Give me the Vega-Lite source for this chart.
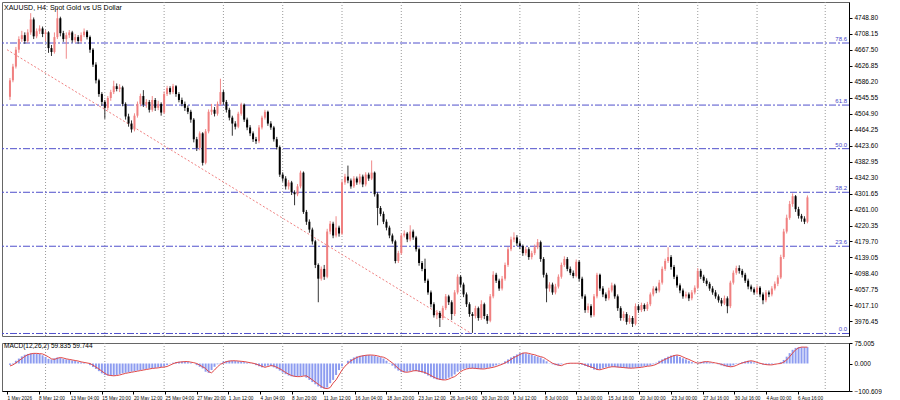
{
"$schema": "https://vega.github.io/schema/vega-lite/v6.json",
"padding": {"left": 1, "top": 1, "right": 0, "bottom": 0},
"background": "white",
"spacing": 2,
"config": {"view": {"stroke": "#666"}, "font": "Liberation Sans", "axis": {"labelFont": "Liberation Sans", "labelFontSize": 6.5, "labelColor": "#000", "domainColor": "#000", "tickColor": "#000", "tickSize": 3, "grid": false}},
"datasets": {
"bars": [
{"i":1,"o":4548,"h":4596,"l":4540,"c":4590,"m":-5,"s":-9},
{"i":2,"o":4590,"h":4632,"l":4585,"c":4625,"m":2,"s":-5},
{"i":3,"o":4625,"h":4675,"l":4620,"c":4668,"m":10,"s":2},
{"i":4,"o":4668,"h":4702,"l":4660,"c":4695,"m":18,"s":10},
{"i":5,"o":4695,"h":4716,"l":4688,"c":4705,"m":26,"s":18},
{"i":6,"o":4705,"h":4712,"l":4683,"c":4690,"m":32,"s":26},
{"i":7,"o":4690,"h":4720,"l":4685,"c":4712,"m":35,"s":32},
{"i":8,"o":4712,"h":4761,"l":4706,"c":4745,"m":37,"s":35},
{"i":9,"o":4745,"h":4750,"l":4695,"c":4702,"m":37,"s":37},
{"i":10,"o":4702,"h":4722,"l":4697,"c":4715,"m":36,"s":37},
{"i":11,"o":4715,"h":4730,"l":4708,"c":4722,"m":35,"s":36},
{"i":12,"o":4722,"h":4727,"l":4700,"c":4708,"m":30,"s":35},
{"i":13,"o":4708,"h":4718,"l":4690,"c":4712,"m":24,"s":30},
{"i":14,"o":4712,"h":4715,"l":4660,"c":4672,"m":17,"s":24},
{"i":15,"o":4672,"h":4680,"l":4652,"c":4662,"m":15,"s":17},
{"i":16,"o":4662,"h":4712,"l":4658,"c":4700,"m":19,"s":15},
{"i":17,"o":4700,"h":4774,"l":4695,"c":4748,"m":22,"s":19},
{"i":18,"o":4748,"h":4752,"l":4702,"c":4710,"m":20,"s":22},
{"i":19,"o":4710,"h":4716,"l":4688,"c":4695,"m":17,"s":20},
{"i":20,"o":4695,"h":4712,"l":4645,"c":4705,"m":15,"s":17},
{"i":21,"o":4705,"h":4718,"l":4698,"c":4712,"m":13,"s":15},
{"i":22,"o":4712,"h":4716,"l":4686,"c":4692,"m":11,"s":13},
{"i":23,"o":4692,"h":4708,"l":4686,"c":4700,"m":9,"s":11},
{"i":24,"o":4700,"h":4705,"l":4683,"c":4690,"m":6,"s":9},
{"i":25,"o":4690,"h":4712,"l":4686,"c":4705,"m":4,"s":6},
{"i":26,"o":4705,"h":4722,"l":4700,"c":4714,"m":2,"s":4},
{"i":27,"o":4714,"h":4718,"l":4694,"c":4700,"m":0,"s":2},
{"i":28,"o":4700,"h":4704,"l":4660,"c":4668,"m":-6,"s":0},
{"i":29,"o":4668,"h":4672,"l":4624,"c":4630,"m":-13,"s":-6},
{"i":30,"o":4630,"h":4636,"l":4582,"c":4590,"m":-20,"s":-13},
{"i":31,"o":4590,"h":4594,"l":4548,"c":4555,"m":-28,"s":-20},
{"i":32,"o":4555,"h":4560,"l":4525,"c":4535,"m":-36,"s":-28},
{"i":33,"o":4535,"h":4540,"l":4492,"c":4520,"m":-42,"s":-36},
{"i":34,"o":4520,"h":4550,"l":4514,"c":4545,"m":-44,"s":-42},
{"i":35,"o":4545,"h":4566,"l":4538,"c":4560,"m":-45,"s":-44},
{"i":36,"o":4560,"h":4589,"l":4555,"c":4575,"m":-44,"s":-45},
{"i":37,"o":4575,"h":4582,"l":4562,"c":4568,"m":-42,"s":-44},
{"i":38,"o":4568,"h":4580,"l":4560,"c":4572,"m":-39,"s":-42},
{"i":39,"o":4572,"h":4576,"l":4524,"c":4530,"m":-36,"s":-39},
{"i":40,"o":4530,"h":4534,"l":4490,"c":4498,"m":-34,"s":-36},
{"i":41,"o":4498,"h":4505,"l":4472,"c":4480,"m":-32,"s":-34},
{"i":42,"o":4480,"h":4488,"l":4457,"c":4465,"m":-30,"s":-32},
{"i":43,"o":4465,"h":4506,"l":4460,"c":4500,"m":-28,"s":-30},
{"i":44,"o":4500,"h":4536,"l":4495,"c":4530,"m":-26,"s":-28},
{"i":45,"o":4530,"h":4556,"l":4524,"c":4550,"m":-24,"s":-26},
{"i":46,"o":4550,"h":4565,"l":4522,"c":4528,"m":-22,"s":-24},
{"i":47,"o":4528,"h":4542,"l":4520,"c":4535,"m":-20,"s":-22},
{"i":48,"o":4535,"h":4540,"l":4508,"c":4515,"m":-18,"s":-20},
{"i":49,"o":4515,"h":4550,"l":4510,"c":4540,"m":-17,"s":-18},
{"i":50,"o":4540,"h":4545,"l":4512,"c":4520,"m":-16,"s":-17},
{"i":51,"o":4520,"h":4538,"l":4514,"c":4530,"m":-14,"s":-16},
{"i":52,"o":4530,"h":4534,"l":4500,"c":4508,"m":-13,"s":-14},
{"i":53,"o":4508,"h":4562,"l":4504,"c":4555,"m":-11,"s":-13},
{"i":54,"o":4555,"h":4576,"l":4550,"c":4570,"m":-6,"s":-11},
{"i":55,"o":4570,"h":4575,"l":4554,"c":4560,"m":-1,"s":-6},
{"i":56,"o":4560,"h":4581,"l":4555,"c":4575,"m":3,"s":-1},
{"i":57,"o":4575,"h":4578,"l":4548,"c":4555,"m":5,"s":3},
{"i":58,"o":4555,"h":4560,"l":4534,"c":4540,"m":6,"s":5},
{"i":59,"o":4540,"h":4546,"l":4524,"c":4530,"m":7,"s":6},
{"i":60,"o":4530,"h":4536,"l":4512,"c":4520,"m":7,"s":7},
{"i":61,"o":4520,"h":4526,"l":4504,"c":4510,"m":5,"s":7},
{"i":62,"o":4510,"h":4515,"l":4482,"c":4490,"m":3,"s":5},
{"i":63,"o":4490,"h":4494,"l":4432,"c":4440,"m":0,"s":3},
{"i":64,"o":4440,"h":4446,"l":4410,"c":4418,"m":-6,"s":0},
{"i":65,"o":4418,"h":4460,"l":4412,"c":4455,"m":-12,"s":-6},
{"i":66,"o":4455,"h":4458,"l":4373,"c":4380,"m":-18,"s":-12},
{"i":67,"o":4380,"h":4466,"l":4376,"c":4460,"m":-30,"s":-18},
{"i":68,"o":4460,"h":4516,"l":4455,"c":4510,"m":-34,"s":-30},
{"i":69,"o":4510,"h":4530,"l":4502,"c":4515,"m":-24,"s":-34},
{"i":70,"o":4515,"h":4522,"l":4498,"c":4505,"m":-12,"s":-24},
{"i":71,"o":4505,"h":4536,"l":4500,"c":4530,"m":-3,"s":-12},
{"i":72,"o":4530,"h":4594,"l":4526,"c":4560,"m":2,"s":-3},
{"i":73,"o":4560,"h":4565,"l":4528,"c":4535,"m":7,"s":2},
{"i":74,"o":4535,"h":4540,"l":4508,"c":4515,"m":9,"s":7},
{"i":75,"o":4515,"h":4520,"l":4488,"c":4495,"m":10,"s":9},
{"i":76,"o":4495,"h":4500,"l":4449,"c":4480,"m":10,"s":10},
{"i":77,"o":4480,"h":4486,"l":4465,"c":4472,"m":9,"s":10},
{"i":78,"o":4472,"h":4510,"l":4468,"c":4505,"m":8,"s":9},
{"i":79,"o":4505,"h":4533,"l":4500,"c":4528,"m":7,"s":8},
{"i":80,"o":4528,"h":4531,"l":4484,"c":4490,"m":5,"s":7},
{"i":81,"o":4490,"h":4495,"l":4463,"c":4470,"m":3,"s":5},
{"i":82,"o":4470,"h":4476,"l":4448,"c":4455,"m":1,"s":3},
{"i":83,"o":4455,"h":4460,"l":4433,"c":4440,"m":-2,"s":1},
{"i":84,"o":4440,"h":4446,"l":4428,"c":4435,"m":-6,"s":-2},
{"i":85,"o":4435,"h":4476,"l":4430,"c":4470,"m":-10,"s":-6},
{"i":86,"o":4470,"h":4500,"l":4465,"c":4495,"m":-14,"s":-10},
{"i":87,"o":4495,"h":4515,"l":4490,"c":4510,"m":-11,"s":-14},
{"i":88,"o":4510,"h":4513,"l":4474,"c":4480,"m":-8,"s":-11},
{"i":89,"o":4480,"h":4486,"l":4464,"c":4470,"m":-9,"s":-8},
{"i":90,"o":4470,"h":4474,"l":4434,"c":4440,"m":-14,"s":-9},
{"i":91,"o":4440,"h":4446,"l":4414,"c":4420,"m":-19,"s":-14},
{"i":92,"o":4420,"h":4424,"l":4344,"c":4350,"m":-26,"s":-19},
{"i":93,"o":4350,"h":4356,"l":4332,"c":4340,"m":-33,"s":-26},
{"i":94,"o":4340,"h":4346,"l":4312,"c":4320,"m":-39,"s":-33},
{"i":95,"o":4320,"h":4336,"l":4312,"c":4330,"m":-44,"s":-39},
{"i":96,"o":4330,"h":4334,"l":4298,"c":4305,"m":-47,"s":-44},
{"i":97,"o":4305,"h":4310,"l":4272,"c":4300,"m":-48,"s":-47},
{"i":98,"o":4300,"h":4326,"l":4295,"c":4320,"m":-48,"s":-48},
{"i":99,"o":4320,"h":4360,"l":4315,"c":4355,"m":-46,"s":-48},
{"i":100,"o":4355,"h":4358,"l":4250,"c":4255,"m":-45,"s":-46},
{"i":101,"o":4255,"h":4260,"l":4222,"c":4230,"m":-52,"s":-45},
{"i":102,"o":4230,"h":4236,"l":4202,"c":4210,"m":-60,"s":-52},
{"i":103,"o":4210,"h":4215,"l":4172,"c":4180,"m":-68,"s":-60},
{"i":104,"o":4180,"h":4184,"l":4112,"c":4120,"m":-76,"s":-68},
{"i":105,"o":4120,"h":4124,"l":4025,"c":4085,"m":-84,"s":-76},
{"i":106,"o":4085,"h":4116,"l":4080,"c":4110,"m":-90,"s":-84},
{"i":107,"o":4110,"h":4120,"l":4082,"c":4090,"m":-92,"s":-90},
{"i":108,"o":4090,"h":4212,"l":4086,"c":4205,"m":-88,"s":-92},
{"i":109,"o":4205,"h":4232,"l":4198,"c":4225,"m":-72,"s":-88},
{"i":110,"o":4225,"h":4230,"l":4188,"c":4195,"m":-60,"s":-72},
{"i":111,"o":4195,"h":4244,"l":4190,"c":4215,"m":-42,"s":-60},
{"i":112,"o":4215,"h":4220,"l":4192,"c":4200,"m":-24,"s":-42},
{"i":113,"o":4200,"h":4336,"l":4196,"c":4330,"m":-10,"s":-24},
{"i":114,"o":4330,"h":4352,"l":4324,"c":4345,"m":0,"s":-10},
{"i":115,"o":4345,"h":4373,"l":4328,"c":4335,"m":10,"s":0},
{"i":116,"o":4335,"h":4340,"l":4314,"c":4320,"m":16,"s":10},
{"i":117,"o":4320,"h":4346,"l":4316,"c":4340,"m":22,"s":16},
{"i":118,"o":4340,"h":4345,"l":4324,"c":4330,"m":26,"s":22},
{"i":119,"o":4330,"h":4352,"l":4325,"c":4345,"m":28,"s":26},
{"i":120,"o":4345,"h":4350,"l":4318,"c":4325,"m":30,"s":28},
{"i":121,"o":4325,"h":4356,"l":4320,"c":4350,"m":31,"s":30},
{"i":122,"o":4350,"h":4355,"l":4334,"c":4340,"m":31,"s":31},
{"i":123,"o":4340,"h":4386,"l":4336,"c":4355,"m":30,"s":31},
{"i":124,"o":4355,"h":4358,"l":4294,"c":4300,"m":28,"s":30},
{"i":125,"o":4300,"h":4305,"l":4221,"c":4265,"m":25,"s":28},
{"i":126,"o":4265,"h":4270,"l":4244,"c":4250,"m":23,"s":25},
{"i":127,"o":4250,"h":4256,"l":4224,"c":4230,"m":18,"s":23},
{"i":128,"o":4230,"h":4236,"l":4208,"c":4215,"m":10,"s":18},
{"i":129,"o":4215,"h":4220,"l":4188,"c":4195,"m":2,"s":10},
{"i":130,"o":4195,"h":4200,"l":4174,"c":4180,"m":-8,"s":2},
{"i":131,"o":4180,"h":4184,"l":4124,"c":4130,"m":-18,"s":-8},
{"i":132,"o":4130,"h":4156,"l":4125,"c":4150,"m":-26,"s":-18},
{"i":133,"o":4150,"h":4200,"l":4146,"c":4195,"m":-31,"s":-26},
{"i":134,"o":4195,"h":4208,"l":4190,"c":4200,"m":-32,"s":-31},
{"i":135,"o":4200,"h":4204,"l":4178,"c":4185,"m":-30,"s":-32},
{"i":136,"o":4185,"h":4221,"l":4180,"c":4205,"m":-27,"s":-30},
{"i":137,"o":4205,"h":4210,"l":4184,"c":4190,"m":-26,"s":-27},
{"i":138,"o":4190,"h":4194,"l":4154,"c":4160,"m":-28,"s":-26},
{"i":139,"o":4160,"h":4164,"l":4118,"c":4125,"m":-30,"s":-28},
{"i":140,"o":4125,"h":4130,"l":4104,"c":4110,"m":-33,"s":-30},
{"i":141,"o":4110,"h":4136,"l":4074,"c":4080,"m":-38,"s":-33},
{"i":142,"o":4080,"h":4085,"l":4044,"c":4050,"m":-44,"s":-38},
{"i":143,"o":4050,"h":4055,"l":4012,"c":4020,"m":-50,"s":-44},
{"i":144,"o":4020,"h":4025,"l":3986,"c":3992,"m":-55,"s":-50},
{"i":145,"o":3992,"h":4005,"l":3982,"c":3998,"m":-58,"s":-55},
{"i":146,"o":3998,"h":4003,"l":3962,"c":3985,"m":-60,"s":-58},
{"i":147,"o":3985,"h":4016,"l":3980,"c":4010,"m":-60,"s":-60},
{"i":148,"o":4010,"h":4046,"l":4005,"c":4040,"m":-57,"s":-60},
{"i":149,"o":4040,"h":4044,"l":4018,"c":4025,"m":-52,"s":-57},
{"i":150,"o":4025,"h":4030,"l":3980,"c":3995,"m":-48,"s":-52},
{"i":151,"o":3995,"h":4056,"l":3990,"c":4050,"m":-40,"s":-48},
{"i":152,"o":4050,"h":4096,"l":4045,"c":4090,"m":-30,"s":-40},
{"i":153,"o":4090,"h":4094,"l":4064,"c":4070,"m":-24,"s":-30},
{"i":154,"o":4070,"h":4075,"l":4038,"c":4045,"m":-20,"s":-24},
{"i":155,"o":4045,"h":4050,"l":4013,"c":4020,"m":-18,"s":-20},
{"i":156,"o":4020,"h":4025,"l":3988,"c":3995,"m":-17,"s":-18},
{"i":157,"o":3995,"h":4000,"l":3947,"c":3990,"m":-18,"s":-17},
{"i":158,"o":3990,"h":4016,"l":3984,"c":4010,"m":-19,"s":-18},
{"i":159,"o":4010,"h":4014,"l":3978,"c":3985,"m":-20,"s":-19},
{"i":160,"o":3985,"h":4030,"l":3980,"c":4020,"m":-20,"s":-20},
{"i":161,"o":4020,"h":4024,"l":3982,"c":3990,"m":-18,"s":-20},
{"i":162,"o":3990,"h":3995,"l":3970,"c":3978,"m":-16,"s":-18},
{"i":163,"o":3978,"h":4046,"l":3974,"c":4040,"m":-14,"s":-16},
{"i":164,"o":4040,"h":4104,"l":4035,"c":4095,"m":-11,"s":-14},
{"i":165,"o":4095,"h":4100,"l":4074,"c":4080,"m":-7,"s":-11},
{"i":166,"o":4080,"h":4085,"l":4054,"c":4060,"m":-3,"s":-7},
{"i":167,"o":4060,"h":4092,"l":4055,"c":4085,"m":2,"s":-3},
{"i":168,"o":4085,"h":4126,"l":4080,"c":4120,"m":8,"s":2},
{"i":169,"o":4120,"h":4166,"l":4115,"c":4160,"m":15,"s":8},
{"i":170,"o":4160,"h":4192,"l":4155,"c":4185,"m":22,"s":15},
{"i":171,"o":4185,"h":4203,"l":4178,"c":4190,"m":27,"s":22},
{"i":172,"o":4190,"h":4196,"l":4168,"c":4175,"m":33,"s":27},
{"i":173,"o":4175,"h":4182,"l":4160,"c":4168,"m":38,"s":33},
{"i":174,"o":4168,"h":4172,"l":4143,"c":4150,"m":39,"s":38},
{"i":175,"o":4150,"h":4166,"l":4144,"c":4160,"m":37,"s":39},
{"i":176,"o":4160,"h":4165,"l":4133,"c":4140,"m":34,"s":37},
{"i":177,"o":4140,"h":4156,"l":4134,"c":4150,"m":32,"s":34},
{"i":178,"o":4150,"h":4172,"l":4145,"c":4165,"m":28,"s":32},
{"i":179,"o":4165,"h":4186,"l":4160,"c":4178,"m":25,"s":28},
{"i":180,"o":4178,"h":4182,"l":4128,"c":4135,"m":22,"s":25},
{"i":181,"o":4135,"h":4140,"l":4088,"c":4095,"m":15,"s":22},
{"i":182,"o":4095,"h":4100,"l":4025,"c":4060,"m":8,"s":15},
{"i":183,"o":4060,"h":4076,"l":4052,"c":4070,"m":1,"s":8},
{"i":184,"o":4070,"h":4075,"l":4044,"c":4050,"m":-3,"s":1},
{"i":185,"o":4050,"h":4072,"l":4045,"c":4065,"m":-6,"s":-3},
{"i":186,"o":4065,"h":4096,"l":4060,"c":4090,"m":-8,"s":-6},
{"i":187,"o":4090,"h":4126,"l":4085,"c":4120,"m":-3,"s":-8},
{"i":188,"o":4120,"h":4142,"l":4115,"c":4135,"m":0,"s":-3},
{"i":189,"o":4135,"h":4140,"l":4104,"c":4110,"m":1,"s":0},
{"i":190,"o":4110,"h":4116,"l":4094,"c":4100,"m":1,"s":1},
{"i":191,"o":4100,"h":4106,"l":4086,"c":4092,"m":1,"s":1},
{"i":192,"o":4092,"h":4134,"l":4088,"c":4128,"m":1,"s":1},
{"i":193,"o":4128,"h":4132,"l":4078,"c":4085,"m":-1,"s":1},
{"i":194,"o":4085,"h":4090,"l":4034,"c":4040,"m":-5,"s":-1},
{"i":195,"o":4040,"h":4045,"l":3998,"c":4005,"m":-9,"s":-5},
{"i":196,"o":4005,"h":4022,"l":3998,"c":4015,"m":-13,"s":-9},
{"i":197,"o":4015,"h":4020,"l":3986,"c":3992,"m":-16,"s":-13},
{"i":198,"o":3992,"h":4046,"l":3988,"c":4040,"m":-22,"s":-16},
{"i":199,"o":4040,"h":4100,"l":4035,"c":4095,"m":-23,"s":-22},
{"i":200,"o":4095,"h":4098,"l":4054,"c":4060,"m":-20,"s":-23},
{"i":201,"o":4060,"h":4066,"l":4038,"c":4045,"m":-17,"s":-20},
{"i":202,"o":4045,"h":4050,"l":4028,"c":4035,"m":-14,"s":-17},
{"i":203,"o":4035,"h":4062,"l":4030,"c":4055,"m":-12,"s":-14},
{"i":204,"o":4055,"h":4075,"l":4050,"c":4068,"m":-12,"s":-12},
{"i":205,"o":4068,"h":4072,"l":4034,"c":4040,"m":-13,"s":-12},
{"i":206,"o":4040,"h":4045,"l":4003,"c":4010,"m":-14,"s":-13},
{"i":207,"o":4010,"h":4015,"l":3978,"c":3985,"m":-15,"s":-14},
{"i":208,"o":3985,"h":4002,"l":3978,"c":3995,"m":-16,"s":-15},
{"i":209,"o":3995,"h":4000,"l":3968,"c":3975,"m":-17,"s":-16},
{"i":210,"o":3975,"h":3992,"l":3970,"c":3985,"m":-17,"s":-17},
{"i":211,"o":3985,"h":3990,"l":3962,"c":3970,"m":-16,"s":-17},
{"i":212,"o":3970,"h":4022,"l":3966,"c":4015,"m":-15,"s":-16},
{"i":213,"o":4015,"h":4020,"l":3998,"c":4005,"m":-14,"s":-15},
{"i":214,"o":4005,"h":4024,"l":4000,"c":4018,"m":-12,"s":-14},
{"i":215,"o":4018,"h":4022,"l":4002,"c":4008,"m":-10,"s":-12},
{"i":216,"o":4008,"h":4026,"l":4003,"c":4020,"m":-9,"s":-10},
{"i":217,"o":4020,"h":4050,"l":4015,"c":4045,"m":-7,"s":-9},
{"i":218,"o":4045,"h":4066,"l":4040,"c":4060,"m":-3,"s":-7},
{"i":219,"o":4060,"h":4065,"l":4048,"c":4055,"m":3,"s":-3},
{"i":220,"o":4055,"h":4082,"l":4050,"c":4075,"m":10,"s":3},
{"i":221,"o":4075,"h":4116,"l":4070,"c":4110,"m":15,"s":10},
{"i":222,"o":4110,"h":4136,"l":4105,"c":4130,"m":20,"s":15},
{"i":223,"o":4130,"h":4165,"l":4125,"c":4140,"m":25,"s":20},
{"i":224,"o":4140,"h":4145,"l":4108,"c":4115,"m":29,"s":25},
{"i":225,"o":4115,"h":4120,"l":4084,"c":4090,"m":31,"s":29},
{"i":226,"o":4090,"h":4095,"l":4062,"c":4068,"m":29,"s":31},
{"i":227,"o":4068,"h":4073,"l":4048,"c":4055,"m":24,"s":29},
{"i":228,"o":4055,"h":4060,"l":4034,"c":4040,"m":19,"s":24},
{"i":229,"o":4040,"h":4052,"l":4035,"c":4045,"m":15,"s":19},
{"i":230,"o":4045,"h":4050,"l":4028,"c":4035,"m":10,"s":15},
{"i":231,"o":4035,"h":4056,"l":4030,"c":4050,"m":5,"s":10},
{"i":232,"o":4050,"h":4068,"l":4045,"c":4062,"m":1,"s":5},
{"i":233,"o":4062,"h":4112,"l":4058,"c":4105,"m":3,"s":1},
{"i":234,"o":4105,"h":4110,"l":4084,"c":4090,"m":6,"s":3},
{"i":235,"o":4090,"h":4095,"l":4074,"c":4080,"m":7,"s":6},
{"i":236,"o":4080,"h":4086,"l":4066,"c":4072,"m":6,"s":7},
{"i":237,"o":4072,"h":4077,"l":4054,"c":4060,"m":4,"s":6},
{"i":238,"o":4060,"h":4066,"l":4044,"c":4050,"m":2,"s":4},
{"i":239,"o":4050,"h":4056,"l":4034,"c":4040,"m":0,"s":2},
{"i":240,"o":4040,"h":4045,"l":4024,"c":4030,"m":-3,"s":0},
{"i":241,"o":4030,"h":4036,"l":4015,"c":4022,"m":-7,"s":-3},
{"i":242,"o":4022,"h":4042,"l":4018,"c":4035,"m":-10,"s":-7},
{"i":243,"o":4035,"h":4040,"l":3997,"c":4015,"m":-12,"s":-10},
{"i":244,"o":4015,"h":4080,"l":4010,"c":4075,"m":-11,"s":-12},
{"i":245,"o":4075,"h":4106,"l":4070,"c":4100,"m":-7,"s":-11},
{"i":246,"o":4100,"h":4118,"l":4095,"c":4112,"m":-2,"s":-7},
{"i":247,"o":4112,"h":4119,"l":4098,"c":4105,"m":2,"s":-2},
{"i":248,"o":4105,"h":4110,"l":4088,"c":4095,"m":5,"s":2},
{"i":249,"o":4095,"h":4100,"l":4074,"c":4080,"m":8,"s":5},
{"i":250,"o":4080,"h":4085,"l":4058,"c":4065,"m":10,"s":8},
{"i":251,"o":4065,"h":4070,"l":4052,"c":4058,"m":8,"s":10},
{"i":252,"o":4058,"h":4063,"l":4044,"c":4050,"m":4,"s":8},
{"i":253,"o":4050,"h":4068,"l":4045,"c":4062,"m":1,"s":4},
{"i":254,"o":4062,"h":4066,"l":4038,"c":4045,"m":-2,"s":1},
{"i":255,"o":4045,"h":4050,"l":4020,"c":4030,"m":-4,"s":-2},
{"i":256,"o":4030,"h":4056,"l":4025,"c":4050,"m":-5,"s":-4},
{"i":257,"o":4050,"h":4055,"l":4038,"c":4045,"m":-5,"s":-5},
{"i":258,"o":4045,"h":4066,"l":4040,"c":4060,"m":-3,"s":-5},
{"i":259,"o":4060,"h":4078,"l":4055,"c":4072,"m":-1,"s":-3},
{"i":260,"o":4072,"h":4094,"l":4066,"c":4088,"m":0,"s":-1},
{"i":261,"o":4088,"h":4146,"l":4084,"c":4140,"m":5,"s":0},
{"i":262,"o":4140,"h":4212,"l":4135,"c":4205,"m":13,"s":5},
{"i":263,"o":4205,"h":4248,"l":4200,"c":4240,"m":25,"s":13},
{"i":264,"o":4240,"h":4283,"l":4235,"c":4275,"m":38,"s":25},
{"i":265,"o":4275,"h":4302,"l":4268,"c":4295,"m":50,"s":38},
{"i":266,"o":4295,"h":4298,"l":4255,"c":4262,"m":57,"s":50},
{"i":267,"o":4262,"h":4268,"l":4238,"c":4245,"m":60,"s":57},
{"i":268,"o":4245,"h":4250,"l":4230,"c":4238,"m":60,"s":60},
{"i":269,"o":4238,"h":4244,"l":4224,"c":4230,"m":60,"s":60},
{"i":270,"o":4230,"h":4297,"l":4226,"c":4292,"m":59.835,"s":59.744}
],
"fib": [
{"lv":"0.0","p":3945.5},
{"lv":"23.6","p":4167.6},
{"lv":"38.2","p":4305},
{"lv":"50.0","p":4416},
{"lv":"61.8","p":4527},
{"lv":"78.6","p":4685}
],
"grid": [{"i":13},{"i":33},{"i":53},{"i":73},{"i":93},{"i":113},{"i":133},{"i":153},{"i":173},{"i":193},{"i":213},{"i":233},{"i":253},{"i":276}],
"trend": [{"i":0,"p":4668},{"i":156.3,"p":3947}]
},
"vconcat": [
{
"width": 847, "height": 334,
"title": {"text": "XAUUSD, H4:  Spot Gold vs US Dollar", "anchor": "start", "frame": "group", "orient": "top", "offset": -9, "dx": 2, "fontSize": 7, "fontWeight": "normal", "font": "Liberation Sans", "color": "#000"},
"layer": [
{"data": {"name": "grid"}, "mark": {"type": "rule", "color": "#9a9a9a", "strokeDash": [1, 2], "strokeWidth": 1},
 "encoding": {"x": {"field": "i", "type": "quantitative", "scale": {"domain": [0, 282.33], "nice": false, "zero": false}, "axis": null}}},
{"data": {"name": "fib"}, "mark": {"type": "rule", "color": "#5050cc", "strokeDash": [7, 2, 2, 2], "strokeWidth": 1},
 "encoding": {"y": {"field": "p", "type": "quantitative", "scale": {"domain": [3939.1, 4789.4], "nice": false, "zero": false},
   "axis": {"orient": "right", "values": [4748.8, 4708.15, 4667.5, 4626.85, 4586.2, 4545.55, 4504.9, 4464.25, 4423.6, 4382.95, 4342.3, 4301.65, 4261.0, 4220.35, 4179.7, 4139.05, 4098.4, 4057.75, 4017.1, 3976.45], "format": ".2f", "title": null, "labelPadding": 2}}}},
{"data": {"name": "fib"}, "mark": {"type": "text", "color": "#4646c8", "align": "right", "baseline": "bottom", "fontSize": 6, "dy": -1, "dx": -2, "x": "width"},
 "encoding": {"y": {"field": "p", "type": "quantitative", "scale": {"domain": [3939.1, 4789.4], "nice": false, "zero": false},
   "axis": {"orient": "right", "values": [4748.8, 4708.15, 4667.5, 4626.85, 4586.2, 4545.55, 4504.9, 4464.25, 4423.6, 4382.95, 4342.3, 4301.65, 4261.0, 4220.35, 4179.7, 4139.05, 4098.4, 4057.75, 4017.1, 3976.45], "format": ".2f", "title": null, "labelPadding": 2}}, "text": {"field": "lv"}}},
{"data": {"name": "trend"}, "mark": {"type": "line", "color": "#f08080", "strokeDash": [2, 2], "strokeWidth": 1},
 "encoding": {"x": {"field": "i", "type": "quantitative", "scale": {"domain": [0, 282.33], "nice": false, "zero": false}, "axis": null},
  "y": {"field": "p", "type": "quantitative", "scale": {"domain": [3939.1, 4789.4], "nice": false, "zero": false},
   "axis": {"orient": "right", "values": [4748.8, 4708.15, 4667.5, 4626.85, 4586.2, 4545.55, 4504.9, 4464.25, 4423.6, 4382.95, 4342.3, 4301.65, 4261.0, 4220.35, 4179.7, 4139.05, 4098.4, 4057.75, 4017.1, 3976.45], "format": ".2f", "title": null, "labelPadding": 2}}}},
{"data": {"name": "bars"}, "mark": {"type": "rule", "strokeWidth": 1},
 "encoding": {"x": {"field": "i", "type": "quantitative", "scale": {"domain": [0, 282.33], "nice": false, "zero": false}, "axis": null},
  "y": {"field": "l", "type": "quantitative", "scale": {"domain": [3939.1, 4789.4], "nice": false, "zero": false},
   "axis": {"orient": "right", "values": [4748.8, 4708.15, 4667.5, 4626.85, 4586.2, 4545.55, 4504.9, 4464.25, 4423.6, 4382.95, 4342.3, 4301.65, 4261.0, 4220.35, 4179.7, 4139.05, 4098.4, 4057.75, 4017.1, 3976.45], "format": ".2f", "title": null, "labelPadding": 2}}, "y2": {"field": "h"},
  "color": {"condition": {"test": "datum.c >= datum.o", "value": "#f08a8a"}, "value": "#333333"}}},
{"data": {"name": "bars"}, "mark": {"type": "bar", "size": 2},
 "encoding": {"x": {"field": "i", "type": "quantitative", "scale": {"domain": [0, 282.33], "nice": false, "zero": false}, "axis": null},
  "y": {"field": "o", "type": "quantitative", "scale": {"domain": [3939.1, 4789.4], "nice": false, "zero": false},
   "axis": {"orient": "right", "values": [4748.8, 4708.15, 4667.5, 4626.85, 4586.2, 4545.55, 4504.9, 4464.25, 4423.6, 4382.95, 4342.3, 4301.65, 4261.0, 4220.35, 4179.7, 4139.05, 4098.4, 4057.75, 4017.1, 3976.45], "format": ".2f", "title": null, "labelPadding": 2}},
  "y2": {"field": "c"},
  "color": {"condition": {"test": "datum.c >= datum.o", "value": "#f08080"}, "value": "#000000"}}}
]
},
{
"width": 847, "height": 48,
"title": {"text": "MACD(12,26,2) 59.835 59.744", "anchor": "start", "frame": "group", "orient": "top", "offset": -9, "dx": 2, "fontSize": 6.5, "fontWeight": "normal", "font": "Liberation Sans", "color": "#000"},
"encoding": {"x": {"field": "i", "type": "quantitative", "scale": {"domain": [0, 282.33], "nice": false, "zero": false},
   "axis": {"orient": "bottom", "values": [0, 10.667, 21.333, 32, 42.667, 53.333, 64, 74.667, 85.333, 96, 106.667, 117.333, 128, 138.667, 149.333, 160, 170.667, 181.333, 192, 202.667, 213.333, 224, 234.667, 245.333, 256, 266.667],
    "labelExpr": "['1 May 2026','8 May 12:00','13 May 04:00','15 May 20:00','20 May 12:00','25 May 04:00','27 May 20:00','1 Jun 12:00','4 Jun 04:00','8 Jun 20:00','11 Jun 12:00','16 Jun 04:00','18 Jun 20:00','23 Jun 12:00','26 Jun 04:00','30 Jun 20:00','3 Jul 12:00','8 Jul 00:00','13 Jul 00:00','15 Jul 16:00','20 Jul 00:00','23 Jul 00:00','27 Jul 16:00','30 Jul 16:00','4 Aug 00:00','6 Aug 16:00'][round(datum.value*3/32)]",
    "labelAlign": "left", "labelFlush": false, "labelOverlap": false, "labelPadding": 1, "labelFontSize": 4.7, "labelFont": "Liberation Sans", "title": null}}},
"layer": [
{"data": {"name": "grid"}, "mark": {"type": "rule", "color": "#9a9a9a", "strokeDash": [1, 2], "strokeWidth": 1}, "encoding": {}},
{"data": {"name": "bars"}, "mark": {"type": "bar", "size": 2, "color": "#8d9cf0"},
 "encoding": {
  "y": {"field": "m", "type": "quantitative", "scale": {"domain": [-100.609, 75.005], "nice": false, "zero": false},
   "axis": {"orient": "right", "values": [75.005, 0, -100.609], "format": ".3f", "title": null, "labelPadding": 2}},
  "y2": {"datum": 0}}},
{"data": {"name": "bars"}, "mark": {"type": "line", "color": "#e04848", "strokeWidth": 1},
 "encoding": {
  "y": {"field": "s", "type": "quantitative", "scale": {"domain": [-100.609, 75.005], "nice": false, "zero": false},
   "axis": {"orient": "right", "values": [75.005, 0, -100.609], "format": ".3f", "title": null, "labelPadding": 2}}}}
]
}
]
}
